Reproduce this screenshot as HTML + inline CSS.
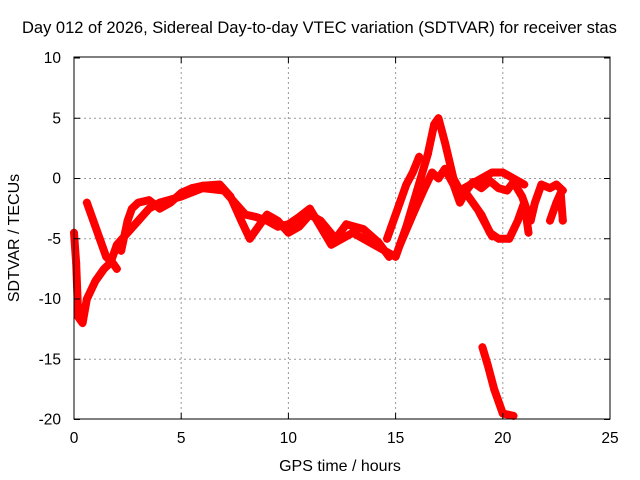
<!DOCTYPE html>
<html><head><meta charset="utf-8"><style>
body{margin:0;background:#fff}
svg{display:block;font-family:"Liberation Sans",sans-serif}
</style></head><body>
<svg id="chart" width="640" height="480">
<rect width="640" height="480" fill="#fff"/>
<text x="22" y="33" font-size="16.5">Day 012 of 2026, Sidereal Day-to-day VTEC variation (SDTVAR) for receiver stas</text>
<g id="grid"></g>
<g id="marks"></g>
<rect x="74" y="57" width="536" height="362" fill="none" stroke="#000"/>
<g id="axes"></g>
<text x="340" y="471" font-size="16" text-anchor="middle">GPS time / hours</text>
<text transform="translate(19,238) rotate(-90)" font-size="16" text-anchor="middle">SDTVAR / TECUs</text>
</svg>
<script>
const xTicks=[0,5,10,15,20,25];
const yTicks=[10,5,0,-5,-10,-15,-20];
const track1=[[0,-4.5],[0.1,-7],[0.2,-11.5],[0.4,-12],[0.6,-10],[1,-8.5],[1.4,-7.5],[1.7,-7],[2,-5.5],[2.5,-4.5],[3,-3.5],[3.5,-2.5],[4,-2],[5,-1.5],[6,-0.8],[7,-1],[7.5,-2],[8,-3],[8.5,-3.2],[9,-3.5],[9.5,-4],[10,-3.8],[10.5,-3.2],[11,-2.5],[11.5,-4],[12,-5.5],[12.5,-5],[13,-4.5],[13.5,-5],[14,-5.5],[14.5,-6],[15,-6.5],[15.5,-4],[16,-1],[16.5,2],[16.8,4.5],[17,5],[17.3,3],[17.7,0],[18,-1],[18.5,-0.5],[19,0],[19.5,0.5],[20,0.5],[20.5,0],[21,-0.5]];
const track2=[[0.6,-2],[0.9,-3.5],[1.2,-5],[1.5,-6.5],[1.8,-7],[2,-7.5]];
const track3=[[2.2,-6],[2.5,-3.5],[2.7,-2.5],[3,-2],[3.5,-1.8],[4,-2.5],[4.5,-2],[5,-1.2],[5.5,-0.8],[6,-0.6],[6.8,-0.5],[7.3,-1.5],[7.8,-3.5],[8.2,-5],[8.6,-4],[9,-3],[9.5,-3.5],[10,-4.5],[10.5,-4],[11,-3],[11.5,-3.5],[12.2,-5],[12.7,-3.8],[13.5,-4.2],[14.2,-5.3],[14.7,-6.5]];
const track4=[[14.6,-5],[15.2,-2],[15.5,-0.5],[15.8,0.5],[16.1,1.8]];
const track5=[[15.2,-5.5],[15.8,-3],[16.3,-1],[16.7,0.5],[17,0],[17.3,0.8],[17.7,-0.5],[18,-2],[18.3,-1],[18.6,-0.3],[19,-0.8],[19.4,-0.2],[19.8,-0.8],[20.2,-1],[20.5,-0.3],[20.9,-1.5],[21.3,-3.5],[21.5,-2],[21.8,-0.5],[22.2,-0.8],[22.5,-0.5],[22.8,-1]];
const track6=[[18.2,-1],[18.6,-2],[19,-3],[19.4,-4.5],[19.8,-5],[20.3,-5],[20.7,-3.5],[21,-2],[21.2,-4.5]];
const track7=[[18.9,-2.8],[19.2,-3.8],[19.5,-4.8]];
const track8=[[22.2,-3.5],[22.5,-2],[22.7,-1.2],[22.8,-3.5]];
const track9=[[19.05,-14],[19.3,-15.5],[19.6,-17.5],[20,-19.5],[20.5,-19.7]];
const tracks=[track1,track2,track3,track4,track5,track6,track7,track8,track9];
const X=h=>74+h*21.44, Y=v=>178.5-v*12.05;
const ns='http://www.w3.org/2000/svg';
const grid=document.getElementById('grid'),axes=document.getElementById('axes'),marks=document.getElementById('marks');
function mk(tag,attrs,parent){const e=document.createElementNS(ns,tag);for(const k in attrs)e.setAttribute(k,attrs[k]);parent.appendChild(e);return e;}
xTicks.forEach(t=>{
 if(t>0&&t<25){const l=mk('line',{x1:X(t),x2:X(t),y1:57,y2:419,stroke:'#999','stroke-dasharray':'2,3'},grid);}
 const a=mk('line',{x1:X(t),x2:X(t),y1:419,y2:413,stroke:'#000'},axes);
 const b=mk('line',{x1:X(t),x2:X(t),y1:57,y2:63,stroke:'#000'},axes);
 const tx=mk('text',{x:X(t),y:443,'font-size':15.5,'text-anchor':'middle'},axes);tx.textContent=t;
 
});
yTicks.forEach(t=>{
 if(t<10&&t>-20){const l=mk('line',{x1:74,x2:610,y1:Y(t),y2:Y(t),stroke:'#999','stroke-dasharray':'2,3'},grid);}
 const a=mk('line',{x1:74,x2:80,y1:Y(t),y2:Y(t),stroke:'#000'},axes);
 const b=mk('line',{x1:604,x2:610,y1:Y(t),y2:Y(t),stroke:'#000'},axes);
 const tx=mk('text',{x:61,y:Y(t)+5,'font-size':15.5,'text-anchor':'end'},axes);tx.textContent=t;
 
});
tracks.forEach(tr=>{
 const p=mk('polyline',{points:tr.map(d=>X(d[0])+','+Y(d[1])).join(' '),fill:'none',stroke:'#f00','stroke-width':8,'stroke-linejoin':'round','stroke-linecap':'round'},marks);
 
 tr.forEach(d=>{const x=X(d[0]),y=Y(d[1]);
  const m=mk('path',{d:`M${x-4},${y}H${x+4}M${x},${y-4}V${y+4}`,stroke:'#f00','stroke-width':1.5},marks);
  });
});
</script>
</body></html>
